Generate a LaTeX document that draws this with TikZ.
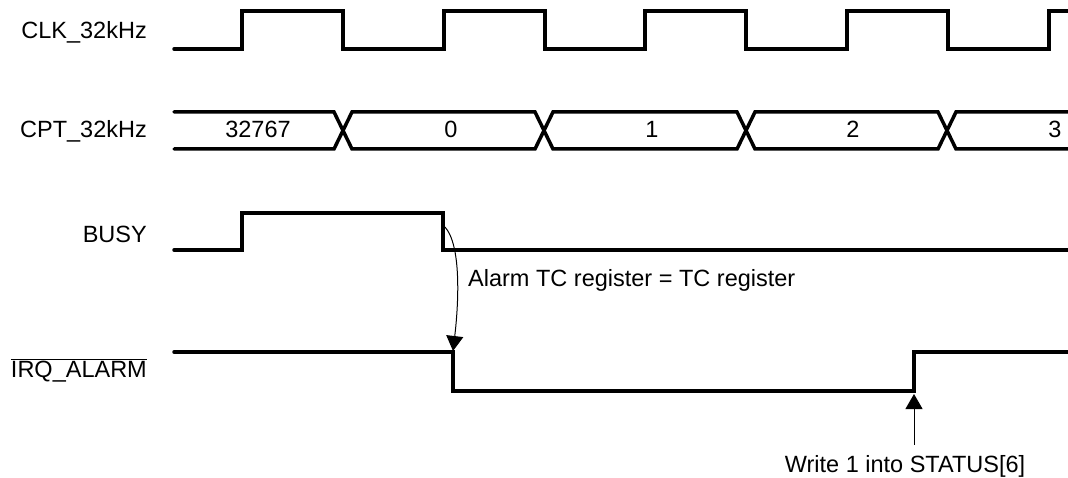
\documentclass[tikz,border=0pt]{standalone}
\usepackage{fontspec}
\setmainfont{Liberation Sans}
\usetikzlibrary{arrows.meta}
\begin{document}
\begin{tikzpicture}[x=1pt,y=-1pt,
    wave/.style={line width=3.5pt,line cap=round},
    signame/.style={anchor=base east,inner sep=0pt,font=\fontsize{23.5}{28}\selectfont},
    val/.style={anchor=base,inner sep=0pt,font=\fontsize{23.5}{28}\selectfont},
    note/.style={inner sep=0pt,font=\fontsize{23.5}{28}\selectfont},
    pointer/.style={line width=1pt,-{Triangle[width=17pt,length=15pt]}}]
    \useasboundingbox (0,0) rectangle (1068,478);

    % signal names
    \node[signame] (clkname)  at (147,39)  {CLK\_32kHz};
    \node[signame] (cptname)  at (147,138) {CPT\_32kHz};
    \node[signame] (busyname) at (147,243) {BUSY};
    \node[signame] (irqname)  at (147,377) {$\overline{\mbox{IRQ\_ALARM}}$};

    % clock
    \draw[wave] (174,49)
    foreach \r/\f in {242/343,444/545,645/746,847/948} {
      -- (\r,49) -- (\r,11) -- (\f,11) -- (\f,49)}
    -- (1049,49) -- (1049,11) -- (1068,11);

    % counter
    \draw[wave] (174,112) -- (334,112) -- (352,149) -- (535,149) -- (553,112)
    -- (737,112) -- (755,149) -- (938,149) -- (956,112) -- (1068,112);
    \draw[wave] (174,149) -- (334,149) -- (352,112) -- (535,112) -- (553,149)
    -- (737,149) -- (755,112) -- (938,112) -- (956,149) -- (1068,149);
    \foreach \x/\v [count=\i from 0] in {258/32767,451/0,652/1,853/2,1055/3}
      \node[val] (cnt\i) at (\x,138) {\v};

    % busy
    \draw[wave] (174,250) -- (242,250) -- (242,213) -- (443,213) -- (443,250) -- (1068,250);

    % alarm interrupt
    \draw[wave] (174,352) -- (453,352) -- (453,391) -- (914,391) -- (914,352) -- (1068,352);

    \coordinate (busyfall) at (445,227);
    \coordinate (irqfall)  at (453,351);
    \coordinate (irqrise)  at (914,394);

    \node[note,anchor=base west] (alarmnote) at (468,287) {Alarm TC register = TC register};
    \node[note,anchor=base] (writenote) at (905,472) {Write 1 into STATUS[6]};

    \draw[pointer] (busyfall) .. controls (461,245) and (459,300) .. (irqfall);
    \draw[pointer] ([yshift=10pt]writenote.north -| irqrise) -- (irqrise);
  \end{tikzpicture}
\end{document}
